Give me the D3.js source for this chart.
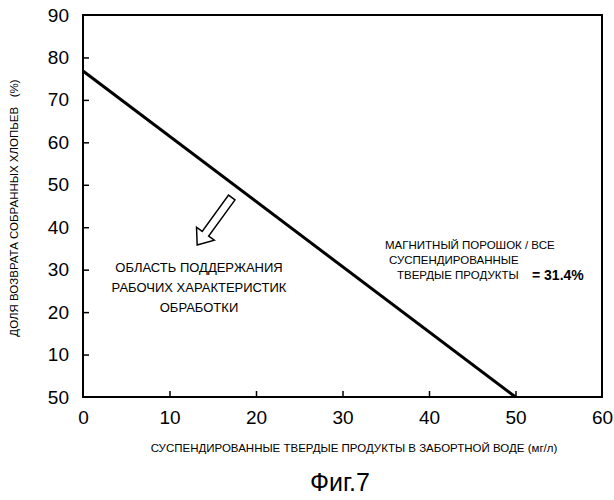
<!DOCTYPE html>
<html><head><meta charset="utf-8">
<script src="https://cdn.jsdelivr.net/npm/d3@7"></script>
<style>body{margin:0;background:#fff}text{font-family:"Liberation Sans",Arial,sans-serif;white-space:pre}</style>
</head><body><svg id="c" width="614" height="500"></svg>
<script>
const xTicks = [0, 10, 20, 30, 40, 50, 60];
const yTicks = [0, 10, 20, 30, 40, 50, 60, 70, 80, 90];
const yTickLabels = ["50", "10", "20", "30", "40", "50", "60", "70", "80", "90"];
const lineX = [0, 50];
const lineY = [76.8, 0];
const arrowFrom = [17.2, 47]; // arrow tail, data units
const arrowTo = [13.2, 35.8]; // arrow head

const svg = d3.select("#c");
const x = d3.scaleLinear([0, 60], [83, 602]);
const y = d3.scaleLinear([0, 90], [397, 15]);

// frame
svg.append("rect").attr("x", x(0)).attr("y", y(90)).attr("width", x(60) - x(0)).attr("height", y(0) - y(90))
  .attr("fill", "none").attr("stroke", "#000").attr("stroke-width", 2);

const xa = svg.append("g").attr("transform", `translate(0,${y(0)})`)
  .call(d3.axisBottom(x).tickValues(xTicks).tickSize(-6).tickPadding(14).tickFormat(d3.format("d")));
const ya = svg.append("g").attr("transform", `translate(${x(0)},0)`)
  .call(d3.axisLeft(y).tickValues(yTicks).tickSize(-6).tickPadding(14).tickFormat((d, i) => yTickLabels[i]));
[xa, ya].forEach(g => {
  g.select(".domain").remove();
  g.selectAll("line").attr("stroke-width", 1.5);
  g.selectAll("text").attr("font-size", 19).attr("fill", "#000");
});
ya.selectAll(".tick").filter(d => d === 0 || d === 90).select("line").remove();
xa.selectAll(".tick").filter(d => d === 0 || d === 60).select("line").remove();

svg.append("path").datum(lineX.map((v, i) => [v, lineY[i]]))
  .attr("d", d3.line().x(d => x(d[0])).y(d => y(d[1])))
  .attr("stroke", "#000").attr("stroke-width", 3).attr("fill", "none");

// hollow block arrow
const x0 = x(arrowFrom[0]), y0 = y(arrowFrom[1]), x1 = x(arrowTo[0]), y1 = y(arrowTo[1]);
const ang = Math.atan2(y1 - y0, x1 - x0), len = Math.hypot(x1 - x0, y1 - y0);
const pts = [[0, -4], [len - 14, -4], [len - 14, -11], [len, 0], [len - 14, 11], [len - 14, 4], [0, 4]];
svg.append("polygon")
  .attr("points", pts.map(p => p.join(",")).join(" "))
  .attr("transform", `translate(${x0},${y0}) rotate(${ang * 180 / Math.PI})`)
  .attr("fill", "#fff").attr("stroke", "#000").attr("stroke-width", 1.5);

const txt = (t, tx, ty, size, anchor, weight) => svg.append("text").attr("x", tx).attr("y", ty)
  .attr("font-size", size).attr("text-anchor", anchor || "middle").attr("font-weight", weight || "normal").text(t);
txt("ОБЛАСТЬ ПОДДЕРЖАНИЯ", 199, 272, 13);
txt("РАБОЧИХ ХАРАКТЕРИСТИК", 199, 292, 13);
txt("ОБРАБОТКИ", 199, 312, 13);
txt("МАГНИТНЫЙ ПОРОШОК / ВСЕ", 385, 249, 11.5, "start");
txt("СУСПЕНДИРОВАННЫЕ", 389, 264, 11.5, "start");
txt("ТВЕРДЫЕ ПРОДУКТЫ", 397, 279, 11.5, "start");
txt("= 31.4%", 532, 280, 14, "start", "bold");
txt("СУСПЕНДИРОВАННЫЕ ТВЕРДЫЕ ПРОДУКТЫ В ЗАБОРТНОЙ ВОДЕ (мг/л)", 354, 452, 11.5);
svg.append("text").attr("transform", "translate(18,208) rotate(-90)").attr("text-anchor", "middle")
  .attr("font-size", 11.5).text("ДОЛЯ ВОЗВРАТА СОБРАННЫХ ХЛОПЬЕВ   (%)");
txt("Фиг.7", 340, 491, 25);
</script></body></html>
